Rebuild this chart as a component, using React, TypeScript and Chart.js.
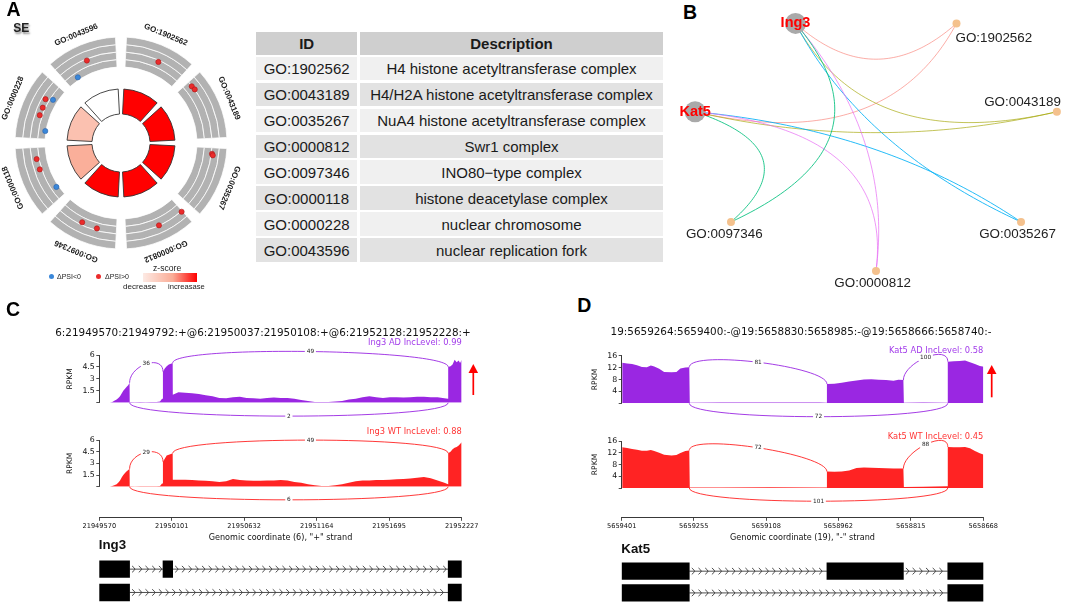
import React, { useEffect, useRef } from 'react';
import { Chart, registerables } from 'chart.js';

Chart.register(...registerables);

const SANS = 'Arial, "Liberation Sans", Helvetica, sans-serif';
const MPL = '"DejaVu Sans", sans-serif';

/* ================= Panel A : GO circle + table ================= */
const goIds = ['GO:1902562', 'GO:0043189', 'GO:0035267', 'GO:0000812', 'GO:0097346', 'GO:0000118', 'GO:0000228', 'GO:0043596'];
const goDescriptions = [
  'H4 histone acetyltransferase complex',
  'H4/H2A histone acetyltransferase complex',
  'NuA4 histone acetyltransferase complex',
  'Swr1 complex',
  'INO80\u2212type complex',
  'histone deacetylase complex',
  'nuclear chromosome',
  'nuclear replication fork',
];
const goZScores = [1.0, 1.41, 1.41, 1.41, 1.41, 0.58, 0.45, 0.0];
// genes plotted in the outer ring: term index, position inside the term sector, delta PSI
const dotTerm = [0, 1, 1, 2, 2, 3, 3, 4, 4, 5, 5, 5, 6, 6, 6, 6, 6, 7, 7];
const dotPosition = [0.55, 0.14, 0.2, 0.15, 0.17, 0.08, 0.45, 0.58, 0.35, 0.76, 0.6, 0.24, 0.67, 0.54, 0.42, 0.72, 0.2, 0.5, 0.26];
const dotDeltaPsi = [0.13, 0.16, 0.17, 0.18, 0.2, 0.18, 0.16, 0.11, 0.12, 0.06, 0.05, -0.1, 0.09, 0.06, 0.06, -0.05, -0.13, 0.13, -0.09];

/* ================= Panel B : network ================= */
const netNodeOrder = ['GO:0000812', 'GO:0035267', 'GO:0043189', 'GO:1902562', 'Ing3', 'Kat5', 'GO:0097346'];
const netGenes = ['Ing3', 'Kat5'];
const netEdgeGene = ['Ing3', 'Kat5', 'Ing3', 'Kat5', 'Ing3', 'Kat5', 'Ing3', 'Kat5', 'Ing3', 'Kat5'];
const netEdgeTerm = ['GO:1902562', 'GO:1902562', 'GO:0043189', 'GO:0043189', 'GO:0035267', 'GO:0035267', 'GO:0000812', 'GO:0000812', 'GO:0097346', 'GO:0097346'];

/* ================= Panel C : Ing3 sashimi ================= */
const ing3Title = '6:21949570:21949792:+@6:21950037:21950108:+@6:21952128:21952228:+';
const ing3Positions = [
  21949648, 21949665, 21949680, 21949697, 21949710, 21949722, 21949735, 21949746, 21949760, 21949771, 21949782, 21949792,
  21949793, 21949830, 21949870, 21949910, 21949950, 21949990, 21950015, 21950030, 21950036,
  21950037, 21950050, 21950064, 21950080, 21950095, 21950108,
  21950109, 21950150, 21950200, 21950250, 21950300, 21950350, 21950400, 21950450, 21950500, 21950550, 21950600,
  21950650, 21950700, 21950750, 21950800, 21950850, 21950900, 21950950, 21951000, 21951050, 21951100,
  21951150, 21951200, 21951250, 21951300, 21951350, 21951400, 21951450, 21951500, 21951550, 21951600,
  21951650, 21951700, 21951750, 21951800, 21951850, 21951900, 21951950, 21952000, 21952050, 21952100, 21952127,
  21952128, 21952145, 21952160, 21952175, 21952190, 21952205, 21952215, 21952227,
];
const ing3AD = [
  0.0, 0.1, 0.25, 0.4, 0.6, 0.8, 1.2, 1.5, 1.8, 2.0, 2.2, 2.5,
  0.08, 0.06, 0.1, 0.07, 0.09, 0.1, 0.15, 0.5, 0.8,
  3.9, 4.3, 4.6, 4.8, 4.9, 5.0,
  1.0, 1.3, 1.25, 1.2, 1.1, 0.95, 0.8, 0.6, 0.55, 0.7, 0.75,
  0.6, 0.55, 0.5, 0.6, 0.65, 0.6, 0.6, 0.5, 0.35, 0.2,
  0.1, 0.08, 0.1, 0.15, 0.2, 0.4, 0.5, 0.7, 0.8, 0.7,
  0.6, 0.7, 0.7, 0.65, 0.7, 0.75, 0.75, 0.7, 0.7, 0.55, 0.5,
  4.5, 4.6, 4.8, 5.4, 5.1, 5.3, 5.0, 5.4,
];
const ing3WT = [
  0.0, 0.1, 0.2, 0.3, 0.55, 0.8, 1.2, 1.5, 1.8, 2.0, 2.15, 2.3,
  0.05, 0.04, 0.06, 0.05, 0.05, 0.06, 0.1, 0.4, 0.6,
  3.2, 3.6, 4.0, 4.1, 4.2, 4.3,
  0.9, 0.9, 0.9, 0.85, 0.8, 0.75, 0.7, 0.6, 0.7, 1.0, 0.85,
  0.8, 0.75, 0.75, 0.8, 0.8, 0.85, 0.8, 0.6, 0.5, 0.3,
  0.2, 0.1, 0.1, 0.2, 0.3, 0.5, 0.7, 0.8, 0.8, 0.85,
  0.85, 0.9, 0.95, 1.0, 1.05, 1.15, 1.25, 1.1, 0.8, 0.5, 0.3,
  4.3, 4.5, 4.8, 5.0, 5.1, 5.3, 5.5, 5.7,
];
const ing3JunctionStart = [21949792, 21950108, 21949792];
const ing3JunctionEnd = [21950037, 21952128, 21952128];
const ing3JunctionAD = [36, 49, 2];
const ing3JunctionWT = [29, 49, 6];
const ing3JunctionSide = ['up', 'up', 'down'];
const ing3IncLevel = [0.99, 0.88];
const ing3XTicks = [21949570, 21950101, 21950632, 21951164, 21951695, 21952227];
const ing3YTicks = [0, 1.5, 3, 4.5, 6];
const ing3Isoforms = [
  [[21949570, 21949792], [21950037, 21950108], [21952128, 21952227]],
  [[21949570, 21949792], [21952128, 21952227]],
];

/* ================= Panel D : Kat5 sashimi ================= */
const kat5Title = '19:5659264:5659400:-@19:5658830:5658985:-@19:5658666:5658740:-';
const kat5Positions = [
  5659400, 5659390, 5659380, 5659370, 5659360, 5659350, 5659342, 5659335, 5659325, 5659315, 5659300, 5659290, 5659282, 5659272, 5659264,
  5659263, 5659200, 5659100, 5659000, 5658986,
  5658985, 5658970, 5658955, 5658940, 5658925, 5658910, 5658895, 5658880, 5658865, 5658850, 5658840, 5658830,
  5658829, 5658790, 5658741,
  5658740, 5658728, 5658716, 5658705, 5658695, 5658685, 5658675, 5658666,
];
const kat5AD = [
  13.6, 13.4, 13.2, 12.8, 12.2, 12.1, 12.7, 12.4, 11.6, 10.5, 10.4, 10.5, 11.7, 12.0, 12.1,
  0.2, 0.25, 0.3, 0.25, 0.2,
  6.5, 6.6, 6.9, 7.3, 7.7, 8.0, 8.1, 7.9, 7.8, 7.6, 7.9, 7.8,
  0.2, 0.25, 0.2,
  14.0, 14.1, 14.2, 14.4, 13.8, 13.2, 12.5, 12.3,
];
const kat5WT = [
  13.9, 13.6, 13.3, 13.0, 12.7, 12.7, 12.9, 12.6, 12.0, 11.3, 11.1, 11.2, 11.9, 12.6, 12.8,
  0.2, 0.2, 0.25, 0.2, 0.2,
  5.6, 5.5, 5.6, 6.0, 6.8, 7.0, 6.9, 6.8, 6.7, 6.6, 6.6, 6.6,
  0.3, 0.4, 0.6,
  14.0, 13.9, 13.9, 14.0, 13.5, 12.6, 11.8, 11.3,
];
const kat5JunctionStart = [5659264, 5658830, 5659264];
const kat5JunctionEnd = [5658985, 5658740, 5658740];
const kat5JunctionAD = [81, 100, 72];
const kat5JunctionWT = [72, 88, 101];
const kat5JunctionSide = ['up', 'up', 'down'];
const kat5IncLevel = [0.58, 0.45];
const kat5XTicks = [5659401, 5659255, 5659108, 5658962, 5658815, 5658668];
const kat5YTicks = [0, 4, 8, 12, 16];
const kat5Isoforms = [
  [[5659264, 5659401], [5658830, 5658985], [5658666, 5658740]],
  [[5659264, 5659401], [5658666, 5658740]],
];

/* ================= styles ================= */
const PURPLE = '#9A27E2';
const RED = '#FF2323';
const PURPLE_TEXT = '#A23BEA';
const RED_TEXT = '#FF3535';
const BAND_IN = 76;
const BAND_OUT = 106;
const INNER_IN = 29;
const INNER_OUT = 54;
const PSI_MIN = -0.2;
const PSI_MAX = 0.4;
const SECTOR_GAP = 6;
const CIRCLE_BOX = 260;
const EDGE_BEND = [0.39, -0.2, -0.44];
const EDGE_COLORS: Record<string, string> = {
  'GO:1902562': 'rgba(248,118,109,0.6)',
  'GO:0043189': 'rgba(163,165,0,0.65)',
  'GO:0035267': 'rgba(0,176,246,0.85)',
  'GO:0000812': 'rgba(231,107,243,0.7)',
  'GO:0097346': 'rgba(0,191,125,0.85)',
};
const NET_LABEL_STYLE: Record<string, any> = {
  'GO:1902562': { align: 'left', dx: -1, dy: 18.2 },
  'GO:0043189': { align: 'right', dx: 4, dy: -6 },
  'GO:0035267': { align: 'center', dx: -3.5, dy: 16.3 },
  'GO:0000812': { align: 'center', dx: -3.3, dy: 16.3 },
  'GO:0097346': { align: 'center', dx: -6.7, dy: 16.3 },
};

const TERM_SPAN = 360 / goIds.length;

function zColor(z: number) {
  const mid = 0.6;
  const t = Math.max(0, Math.min(1, z));
  const a = t < mid ? [255, 255, 255] : [250, 172, 150];
  const b = t < mid ? [250, 172, 150] : [255, 0, 0];
  const u = t < mid ? t / mid : (t - mid) / (1 - mid);
  const c = a.map((v, i) => Math.round(v + (b[i] - v) * u));
  return `rgb(${c[0]},${c[1]},${c[2]})`;
}

function ringSpans(gap: number) {
  const v = [gap / 2];
  goIds.forEach((_, i) => {
    v.push(TERM_SPAN - gap);
    v.push(i === goIds.length - 1 ? gap / 2 : gap);
  });
  return v;
}

const BASE_PLUGINS = { legend: { display: false }, tooltip: { enabled: false }, title: { display: false } };

/* ---------- plugins ---------- */
const goLabelPlugin = {
  id: 'goLabels',
  afterDatasetsDraw(chart: any, _a: any, opts: any) {
    const meta = chart.getDatasetMeta(0);
    const { ctx } = chart;
    ctx.save();
    ctx.font = `bold 8px ${SANS}`;
    ctx.fillStyle = '#1a1a1a';
    ctx.textAlign = 'center';
    ctx.textBaseline = 'middle';
    goIds.forEach((id, i) => {
      const arc = meta.data[2 * i + 1];
      const mid = (arc.startAngle + arc.endAngle) / 2;
      const x = arc.x + opts.radius * Math.cos(mid);
      const y = arc.y + opts.radius * Math.sin(mid);
      ctx.save();
      ctx.translate(x, y);
      ctx.rotate(mid + Math.PI / 2);
      ctx.fillText(id, 0, 0);
      ctx.restore();
    });
    ctx.restore();
  },
};

function netPos(name: string) {
  const i = netNodeOrder.indexOf(name);
  const a = -Math.PI / 2 + (i * 2 * Math.PI) / netNodeOrder.length;
  return { x: Math.cos(a), y: Math.sin(a) };
}

const netPlugin = {
  id: 'netPlugin',
  beforeDatasetsDraw(chart: any) {
    const { ctx } = chart;
    const xs = chart.scales.x;
    const ys = chart.scales.y;
    const n = netNodeOrder.length;
    ctx.save();
    ctx.lineWidth = 1;
    netEdgeGene.forEach((g, i) => {
      const t = netEdgeTerm[i];
      const P0 = netPos(g);
      const P1 = netPos(t);
      const d = Math.abs(netNodeOrder.indexOf(g) - netNodeOrder.indexOf(t));
      const steps = Math.min(d, n - d);
      const k = EDGE_BEND[steps - 1];
      const Q = { x: (k * (P0.x + P1.x)) / 2, y: (k * (P0.y + P1.y)) / 2 };
      ctx.strokeStyle = EDGE_COLORS[t];
      ctx.beginPath();
      for (let s = 0; s <= 64; s++) {
        const u = s / 64;
        const bx = (1 - u) * (1 - u) * P0.x + 2 * (1 - u) * u * Q.x + u * u * P1.x;
        const by = (1 - u) * (1 - u) * P0.y + 2 * (1 - u) * u * Q.y + u * u * P1.y;
        const px = xs.getPixelForValue(bx);
        const py = ys.getPixelForValue(by);
        if (s === 0) ctx.moveTo(px, py);
        else ctx.lineTo(px, py);
      }
      ctx.stroke();
    });
    ctx.restore();
  },
  afterDatasetsDraw(chart: any) {
    const { ctx } = chart;
    const xs = chart.scales.x;
    const ys = chart.scales.y;
    ctx.save();
    netNodeOrder.forEach((name) => {
      const p = netPos(name);
      const px = xs.getPixelForValue(p.x);
      const py = ys.getPixelForValue(p.y);
      if (netGenes.includes(name)) {
        ctx.font = `bold 14.5px ${SANS}`;
        ctx.fillStyle = '#FF0000';
        ctx.textAlign = 'center';
        ctx.textBaseline = 'middle';
        ctx.fillText(name, px, py);
      } else {
        const st = NET_LABEL_STYLE[name];
        ctx.font = `13.4px ${SANS}`;
        ctx.fillStyle = '#222';
        ctx.textAlign = st.align;
        ctx.textBaseline = 'alphabetic';
        ctx.fillText(name, px + st.dx, py + st.dy);
      }
    });
    ctx.restore();
  },
};

const sashimiPlugin = {
  id: 'sashimi',
  afterDatasetsDraw(chart: any, _a: any, o: any) {
    const { ctx, chartArea } = chart;
    const xs = chart.scales.x;
    const ys = chart.scales.y;
    const h = o.ymax * 0.375;
    const cov = (p: number) => {
      const k = o.positions.indexOf(p);
      return k >= 0 ? o.values[k] : 0;
    };
    ctx.save();
    o.jStart.forEach((s: number, i: number) => {
      const e = o.jEnd[i];
      const up = o.jSide[i] === 'up';
      const v0 = up ? cov(s) : 0;
      const v3 = up ? cov(e) : 0;
      const v1 = up ? v0 + h : -h;
      const v2 = up ? v3 + h : -h;
      const X0 = xs.getPixelForValue(s);
      const X3 = xs.getPixelForValue(e);
      const P0 = ys.getPixelForValue(v0);
      const P1 = ys.getPixelForValue(v1);
      const P2 = ys.getPixelForValue(v2);
      const P3 = ys.getPixelForValue(v3);
      ctx.strokeStyle = o.color;
      ctx.lineWidth = 0.9;
      ctx.beginPath();
      ctx.moveTo(X0, P0);
      ctx.bezierCurveTo(X0, P1, X3, P2, X3, P3);
      ctx.stroke();
      const mx = (X0 + X3) / 2;
      const my = 0.125 * P0 + 0.375 * P1 + 0.375 * P2 + 0.125 * P3;
      const txt = String(o.jCount[i]);
      ctx.font = `5.8px ${MPL}`;
      const w = ctx.measureText(txt).width;
      ctx.fillStyle = '#ffffff';
      ctx.fillRect(mx - w / 2 - 1.8, my - 3.6, w + 3.6, 7.2);
      ctx.fillStyle = '#222';
      ctx.textAlign = 'center';
      ctx.textBaseline = 'middle';
      ctx.fillText(txt, mx, my);
    });
    ctx.font = `8.3px ${MPL}`;
    ctx.fillStyle = o.textColor;
    ctx.textAlign = 'right';
    ctx.textBaseline = 'middle';
    ctx.fillText(o.label, chartArea.right, chartArea.top - o.labelOffset);
    if (o.arrow) {
      const ax = chartArea.right + o.arrow.dx;
      const tip = chartArea.top + o.arrow.tip;
      const tail = chartArea.top + o.arrow.tail;
      ctx.strokeStyle = '#FF0000';
      ctx.fillStyle = '#FF0000';
      ctx.lineWidth = 1.7;
      ctx.beginPath();
      ctx.moveTo(ax, tail);
      ctx.lineTo(ax, tip + 6);
      ctx.stroke();
      ctx.beginPath();
      ctx.moveTo(ax, tip);
      ctx.lineTo(ax - 4.8, tip + 9);
      ctx.lineTo(ax + 4.8, tip + 9);
      ctx.closePath();
      ctx.fill();
    }
    ctx.restore();
  },
};

const geneModelPlugin = {
  id: 'geneModel',
  beforeDatasetsDraw(chart: any, _a: any, o: any) {
    const { ctx } = chart;
    const xs = chart.scales.x;
    const ys = chart.scales.y;
    ctx.save();
    ctx.strokeStyle = '#3a3a3a';
    ctx.lineWidth = 0.9;
    o.isoforms.forEach((iso: number[][], k: number) => {
      const y = ys.getPixelForValue(k);
      const boxes = iso
        .map(([a, b]) => {
          const p = xs.getPixelForValue(a);
          const q = xs.getPixelForValue(b);
          return [Math.min(p, q), Math.max(p, q)];
        })
        .sort((u, v) => u[0] - v[0]);
      for (let j = 0; j < boxes.length - 1; j++) {
        const x0 = boxes[j][1];
        const x1 = boxes[j + 1][0];
        ctx.beginPath();
        ctx.moveTo(x0, y);
        ctx.lineTo(x1, y);
        ctx.stroke();
        ctx.beginPath();
        for (let cx = x0 + 4; cx < x1 - 1; cx += 6.7) {
          ctx.moveTo(cx - 1.5, y - 3.2);
          ctx.quadraticCurveTo(cx + 1.3, y - 1, cx + 1.3, y);
          ctx.quadraticCurveTo(cx + 1.3, y + 1, cx - 1.5, y + 3.2);
        }
        ctx.stroke();
      }
    });
    ctx.restore();
  },
};

/* ---------- chart configs ---------- */
function goCircleConfig() {
  const outer = ringSpans(SECTOR_GAP);
  const inner = ringSpans(SECTOR_GAP);
  const isTerm = (j: number) => j % 2 === 1;
  const bandPx = (BAND_OUT - BAND_IN) / 4;
  const band = () => ({
    data: outer,
    backgroundColor: outer.map((_, j) => (isTerm(j) ? '#B2B2B2' : 'rgba(0,0,0,0)')),
    borderColor: '#ffffff',
    borderWidth: outer.map((_, j) => (isTerm(j) ? 0.75 : 0)),
    weight: 1,
  });
  return {
    type: 'doughnut',
    data: {
      datasets: [
        band(),
        band(),
        band(),
        band(),
        { data: inner, backgroundColor: 'rgba(0,0,0,0)', borderWidth: 0, weight: (BAND_IN - INNER_OUT) / bandPx },
        {
          data: inner,
          backgroundColor: inner.map((_, j) => (isTerm(j) ? zColor(goZScores[(j - 1) / 2]) : 'rgba(0,0,0,0)')),
          borderColor: '#333333',
          borderWidth: inner.map((_, j) => (isTerm(j) ? 0.9 : 0)),
          weight: (INNER_OUT - INNER_IN) / bandPx,
        },
      ],
    },
    options: {
      responsive: false,
      animation: false,
      events: [],
      radius: BAND_OUT,
      cutout: `${(INNER_IN / BAND_OUT) * 100}%`,
      plugins: { ...BASE_PLUGINS, goLabels: { radius: 117 } },
    },
    plugins: [goLabelPlugin],
  };
}

function goDotsConfig() {
  const pts = dotTerm.map((t, i) => {
    const a = ((t + dotPosition[i]) * TERM_SPAN * Math.PI) / 180;
    const r = BAND_IN + ((dotDeltaPsi[i] - PSI_MIN) / (PSI_MAX - PSI_MIN)) * (BAND_OUT - BAND_IN);
    return { x: r * Math.sin(a), y: r * Math.cos(a), v: dotDeltaPsi[i] };
  });
  const half = CIRCLE_BOX / 2;
  return {
    type: 'scatter',
    data: {
      datasets: [
        { data: pts.filter((p) => p.v < 0), pointRadius: 2.6, backgroundColor: '#3A87D9', borderColor: '#2B62A8', borderWidth: 0.6 },
        { data: pts.filter((p) => p.v > 0), pointRadius: 2.6, backgroundColor: '#EB2B2B', borderColor: '#A81A1A', borderWidth: 0.6 },
      ],
    },
    options: {
      responsive: false,
      animation: false,
      events: [],
      plugins: BASE_PLUGINS,
      scales: { x: { display: false, min: -half, max: half }, y: { display: false, min: -half, max: half } },
    },
  };
}

function networkConfig() {
  const goNodes = netNodeOrder.filter((n) => !netGenes.includes(n)).map(netPos);
  const geneNodes = netGenes.map(netPos);
  return {
    type: 'scatter',
    data: {
      datasets: [
        { data: goNodes, pointRadius: 4, backgroundColor: '#F4C18D', borderWidth: 0, clip: false },
        { data: geneNodes, pointRadius: 10.5, backgroundColor: '#A9A9A9', borderWidth: 0, clip: false },
      ],
    },
    options: {
      responsive: false,
      animation: false,
      events: [],
      layout: { padding: { left: 10, right: 2, top: 4.4, bottom: 19 } },
      plugins: BASE_PLUGINS,
      scales: { x: { display: false, min: -1, max: 1 }, y: { display: false, min: -1, max: 1 } },
    },
    plugins: [netPlugin],
  };
}

function trackConfig(p: any, t: any) {
  return {
    type: 'line',
    data: {
      datasets: [
        {
          data: p.positions.map((x: number, i: number) => ({ x, y: t.values[i] })),
          fill: 'origin',
          backgroundColor: t.color,
          borderColor: 'rgba(0,0,0,0)',
          borderWidth: 0,
          pointRadius: 0,
          tension: 0,
        },
      ],
    },
    options: {
      responsive: false,
      animation: false,
      events: [],
      layout: { padding: { left: p.padL, right: p.padR, top: t.padTop, bottom: t.padBottom } },
      plugins: {
        ...BASE_PLUGINS,
        sashimi: {
          positions: p.positions,
          values: t.values,
          jStart: p.jStart,
          jEnd: p.jEnd,
          jSide: p.jSide,
          jCount: t.counts,
          ymax: p.ymax,
          color: t.color,
          textColor: t.textColor,
          label: t.label,
          labelOffset: t.labelOffset,
          arrow: t.arrow,
        },
      },
      scales: {
        x: { type: 'linear', display: false, min: p.xMin, max: p.xMax, reverse: p.reverse },
        y: {
          type: 'linear',
          min: 0,
          max: p.ymax,
          afterBuildTicks: (s: any) => {
            s.ticks = p.yTicks.map((v: number) => ({ value: v }));
          },
          afterFit: (s: any) => {
            s.width = 40;
          },
          ticks: {
            callback: (v: number) => (v === 0 ? '' : String(v)),
            font: { family: MPL, size: 7.8 },
            color: '#111',
            padding: 1.5,
            autoSkip: false,
          },
          grid: { drawOnChartArea: false, tickLength: 3, color: '#222', lineWidth: 0.8 },
          border: { color: '#222', width: 0.9 },
          title: { display: true, text: 'RPKM', font: { family: MPL, size: 7.6 }, color: '#111', padding: { top: p.rpkmPad, bottom: 0 } },
        },
      },
    },
    plugins: [sashimiPlugin],
  };
}

function axisConfig(p: any) {
  return {
    type: 'line',
    data: { datasets: [] },
    options: {
      responsive: false,
      animation: false,
      events: [],
      layout: { padding: { left: p.padL + 40, right: p.padR, top: 5, bottom: 0 } },
      plugins: BASE_PLUGINS,
      scales: {
        x: {
          type: 'linear',
          min: p.xMin,
          max: p.xMax,
          reverse: p.reverse,
          afterBuildTicks: (s: any) => {
            s.ticks = [...p.xTicks].sort((a: number, b: number) => a - b).map((v: number) => ({ value: v }));
          },
          afterFit: (s: any) => {
            s.height = 29.7;
          },
          ticks: { callback: (v: number) => String(v), font: { family: MPL, size: 6.6 }, color: '#111', padding: 2, maxRotation: 0, autoSkip: false },
          grid: { drawOnChartArea: false, tickLength: 3.5, color: '#222', lineWidth: 0.8 },
          border: { color: '#222', width: 0.9 },
          title: { display: true, text: p.axisTitle, font: { family: MPL, size: 8.1 }, color: '#111', padding: { top: 0, bottom: 3.9 } },
        },
        y: { display: false },
      },
    },
  };
}

function geneConfig(p: any) {
  const exons: any[] = [];
  p.isoforms.forEach((iso: number[][], k: number) => iso.forEach(([a, b]) => exons.push({ x: [a, b], y: k })));
  return {
    type: 'bar',
    data: { datasets: [{ data: exons, backgroundColor: '#000000', borderWidth: 0, barThickness: 16.7 }] },
    options: {
      indexAxis: 'y',
      responsive: false,
      animation: false,
      events: [],
      layout: { padding: { left: p.padL + 40, right: p.padR, top: p.genePadTop, bottom: p.genePadBottom } },
      plugins: { ...BASE_PLUGINS, geneModel: { isoforms: p.isoforms } },
      scales: {
        x: { type: 'linear', display: false, min: p.xMin, max: p.xMax, reverse: p.reverse },
        y: { type: 'linear', display: false, min: -0.4, max: 1.4, reverse: true },
      },
    },
    plugins: [geneModelPlugin],
  };
}

/* ---------- components ---------- */
function ChartCanvas({ x, y, w, h, build }: { x: number; y: number; w: number; h: number; build: () => any }) {
  const ref = useRef<HTMLCanvasElement | null>(null);
  useEffect(() => {
    const el = ref.current;
    if (!el) return;
    const chart = new Chart(el, build());
    return () => chart.destroy();
  }, []);
  return <canvas ref={ref} width={w} height={h} style={{ position: 'absolute', left: x, top: y, width: w, height: h }} />;
}

function Txt({ x, y, size, children, weight = 400, family = SANS, color = '#111', align = 'left', style = {} }: any) {
  const tx = align === 'center' ? 'translateX(-50%)' : align === 'right' ? 'translateX(-100%)' : undefined;
  return (
    <div
      style={{
        position: 'absolute',
        left: x,
        top: y - size / 2,
        fontSize: size,
        lineHeight: `${size}px`,
        fontFamily: family,
        fontWeight: weight,
        color,
        whiteSpace: 'nowrap',
        transform: tx,
        ...style,
      }}
    >
      {children}
    </div>
  );
}

function GoTable() {
  const idL = 256;
  const idW = 101.3;
  const dL = 360;
  const dW = 303;
  const cell = (left: number, top: number, w: number, h: number, bg: string, text: string, bold: boolean, key: string) => (
    <div
      key={key}
      style={{
        position: 'absolute',
        left,
        top,
        width: w,
        height: h,
        background: bg,
        display: 'flex',
        alignItems: 'center',
        justifyContent: 'center',
        fontFamily: SANS,
        fontSize: 15,
        fontWeight: bold ? 700 : 400,
        color: '#1a1a1a',
        whiteSpace: 'nowrap',
      }}
    >
      {text}
    </div>
  );
  const cells = [cell(idL, 31.7, idW, 23.3, '#CFCFCF', 'ID', true, 'hid'), cell(dL, 31.7, dW, 23.3, '#CFCFCF', 'Description', true, 'hd')];
  goIds.forEach((id, i) => {
    const top = 56.7 + i * 25.94;
    const bg = i % 2 === 0 ? '#F0F0F0' : '#E2E2E2';
    cells.push(cell(idL, top, idW, 23.6, bg, id, false, `i${i}`));
    cells.push(cell(dL, top, dW, 23.6, bg, goDescriptions[i], false, `d${i}`));
  });
  return <>{cells}</>;
}

function SashimiPanel({ p }: { p: any }) {
  return (
    <>
      <ChartCanvas x={p.x0} y={p.adTop} w={450} h={90} build={() => trackConfig(p, p.ad)} />
      <ChartCanvas x={p.x0} y={p.wtTop} w={450} h={90} build={() => trackConfig(p, p.wt)} />
      <ChartCanvas x={p.x0} y={505} w={450} h={42} build={() => axisConfig(p)} />
      <ChartCanvas x={p.x0} y={p.geneTop} w={450} h={p.geneH} build={() => geneConfig(p)} />
      <Txt x={p.titleX} y={p.titleY} size={10.4} family={MPL} align="center">
        {p.title}
      </Txt>
      <Txt x={p.geneX} y={p.geneY} size={13.3} weight={700}>
        {p.gene}
      </Txt>
    </>
  );
}

const panelC = {
  x0: 40,
  padL: 19.3,
  padR: 28.3,
  xMin: 21949570,
  xMax: 21952227,
  reverse: false,
  ymax: 6,
  yTicks: ing3YTicks,
  xTicks: ing3XTicks,
  positions: ing3Positions,
  jStart: ing3JunctionStart,
  jEnd: ing3JunctionEnd,
  jSide: ing3JunctionSide,
  rpkmPad: 6.2,
  adTop: 336,
  wtTop: 421,
  ad: {
    values: ing3AD,
    counts: ing3JunctionAD,
    color: PURPLE,
    textColor: PURPLE_TEXT,
    label: `Ing3 AD IncLevel: ${ing3IncLevel[0]}`,
    labelOffset: 11.7,
    padTop: 19,
    padBottom: 23.3,
    arrow: { dx: 11.6, tip: 9, tail: 40 },
  },
  wt: {
    values: ing3WT,
    counts: ing3JunctionWT,
    color: RED,
    textColor: RED_TEXT,
    label: `Ing3 WT IncLevel: ${ing3IncLevel[1]}`,
    labelOffset: 8.3,
    padTop: 19,
    padBottom: 24.3,
    arrow: null,
  },
  axisTitle: 'Genomic coordinate (6), "+" strand',
  isoforms: ing3Isoforms,
  geneTop: 545,
  geneH: 68,
  genePadTop: 4.3,
  genePadBottom: 0.7,
  title: ing3Title,
  titleX: 263,
  titleY: 331.7,
  gene: 'Ing3',
  geneX: 98.8,
  geneY: 545,
};

const panelD = {
  x0: 562,
  padL: 19.7,
  padR: 28.7,
  xMin: 5658668,
  xMax: 5659401,
  reverse: true,
  ymax: 16,
  yTicks: kat5YTicks,
  xTicks: kat5XTicks,
  positions: kat5Positions,
  jStart: kat5JunctionStart,
  jEnd: kat5JunctionEnd,
  jSide: kat5JunctionSide,
  rpkmPad: 8.8,
  adTop: 336,
  wtTop: 421,
  ad: {
    values: kat5AD,
    counts: kat5JunctionAD,
    color: PURPLE,
    textColor: PURPLE_TEXT,
    label: `Kat5 AD IncLevel: ${kat5IncLevel[0]}`,
    labelOffset: 5,
    padTop: 19.7,
    padBottom: 22.7,
    arrow: { dx: 8.4, tip: 9.3, tail: 41.6 },
  },
  wt: {
    values: kat5WT,
    counts: kat5JunctionWT,
    color: RED,
    textColor: RED_TEXT,
    label: `Kat5 WT IncLevel: ${kat5IncLevel[1]}`,
    labelOffset: 4.3,
    padTop: 20,
    padBottom: 23,
    arrow: null,
  },
  axisTitle: 'Genomic coordinate (19), "-" strand',
  isoforms: kat5Isoforms,
  geneTop: 548,
  geneH: 64,
  genePadTop: 4.7,
  genePadBottom: 0.6,
  title: kat5Title,
  titleX: 801,
  titleY: 331,
  gene: 'Kat5',
  geneX: 621.3,
  geneY: 548.3,
};

export default function App() {
  return (
    <div
      style={{
        position: 'absolute',
        left: 0,
        top: 0,
        width: 1072,
        height: 608,
        overflow: 'hidden',
        background: '#ffffff',
        fontFamily: SANS,
      }}
    >
      {/* Panel A */}
      <ChartCanvas x={121 - CIRCLE_BOX / 2} y={143 - CIRCLE_BOX / 2} w={CIRCLE_BOX} h={CIRCLE_BOX} build={goCircleConfig} />
      <ChartCanvas x={121 - CIRCLE_BOX / 2} y={143 - CIRCLE_BOX / 2} w={CIRCLE_BOX} h={CIRCLE_BOX} build={goDotsConfig} />
      <Txt x={6.5} y={10} size={19.5} weight={700} color="#000">
        A
      </Txt>
      <Txt x={13.3} y={27.5} size={12} weight={700} color="#222" style={{ textShadow: '1px 2px 2px rgba(0,0,0,0.45)' }}>
        SE
      </Txt>
      <div style={{ position: 'absolute', left: 49.2, top: 274.2, width: 5, height: 5, borderRadius: '50%', background: '#3A87D9' }} />
      <Txt x={57} y={276.7} size={7} color="#222">
        {'\u0394PSI<0'}
      </Txt>
      <div style={{ position: 'absolute', left: 95.8, top: 274.2, width: 5, height: 5, borderRadius: '50%', background: '#EB2B2B' }} />
      <Txt x={105} y={276.7} size={7} color="#222">
        {'\u0394PSI>0'}
      </Txt>
      <Txt x={153} y={268.3} size={8.6} color="#222">
        z-score
      </Txt>
      <div
        style={{
          position: 'absolute',
          left: 143,
          top: 273,
          width: 54,
          height: 9,
          background: 'linear-gradient(to right, #FDEAE4, #FAAC96 55%, #FF0000)',
        }}
      />
      <Txt x={123} y={287} size={8.1} color="#222">
        decrease
      </Txt>
      <Txt x={168} y={287} size={7.6} color="#222">
        increasase
      </Txt>
      <GoTable />

      {/* Panel B */}
      <Txt x={683} y={12.5} size={19.5} weight={700} color="#000">
        B
      </Txt>
      <ChartCanvas x={680} y={0} w={392} h={290} build={networkConfig} />

      {/* Panel C */}
      <Txt x={6} y={309.7} size={19.5} weight={700} color="#000">
        C
      </Txt>
      <SashimiPanel p={panelC} />

      {/* Panel D */}
      <Txt x={577.3} y={305.8} size={19.5} weight={700} color="#000">
        D
      </Txt>
      <SashimiPanel p={panelD} />
    </div>
  );
}
